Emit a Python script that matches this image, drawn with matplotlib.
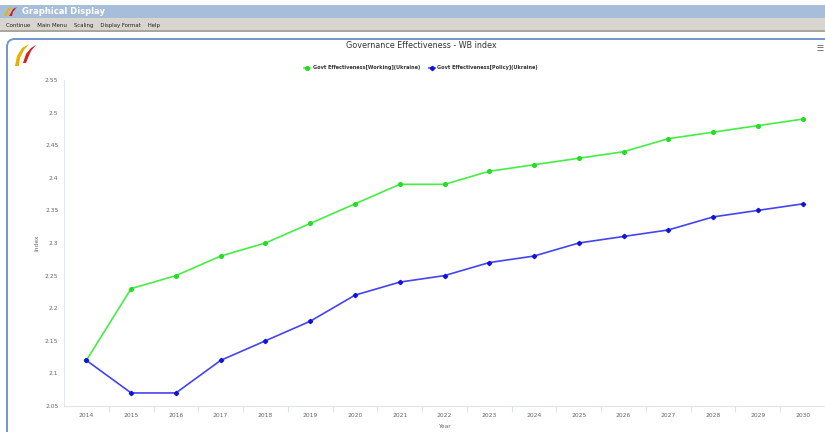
import matplotlib
matplotlib.use("Agg")
import matplotlib.pyplot as plt
from matplotlib.patches import Rectangle, FancyBboxPatch, Polygon

years = [str(y) for y in range(2014, 2031)]
working = [2.12, 2.23, 2.25, 2.28, 2.30, 2.33, 2.36, 2.39, 2.39, 2.41, 2.42,
           2.43, 2.44, 2.46, 2.47, 2.48, 2.49]
policy = [2.12, 2.07, 2.07, 2.12, 2.15, 2.18, 2.22, 2.24, 2.25, 2.27, 2.28,
          2.30, 2.31, 2.32, 2.34, 2.35, 2.36]
yticks = [2.05, 2.1, 2.15, 2.2, 2.25, 2.3, 2.35, 2.4, 2.45, 2.5, 2.55]
ytick_labels = ["2.05", "2.1", "2.15", "2.2", "2.25", "2.3", "2.35", "2.4", "2.45", "2.5", "2.55"]
series_names = ["Govt Effectiveness[Working](Ukraine)", "Govt Effectiveness[Policy](Ukraine)"]

W, H = 825, 432
fig = plt.figure(figsize=(W / 100, H / 100), dpi=100)
fig.patch.set_facecolor("white")

def px(x, y):
    return x / W, 1 - y / H

# --- window chrome (figure-level decoration) ---
bg = fig.add_axes([0, 0, 1, 1], zorder=0)
bg.set_xlim(0, W)
bg.set_ylim(H, 0)
bg.axis("off")
bg.add_patch(Rectangle((0, 5), W, 13, facecolor="#a7bedb", edgecolor="none"))
bg.add_patch(Rectangle((0, 18), W, 13, facecolor="#d8d5cf", edgecolor="none"))
bg.add_patch(Rectangle((0, 30), W, 2, facecolor="#a9a69f", edgecolor="none"))
bg.text(22, 11.5, "Graphical Display", color="white", fontsize=6, fontweight="bold",
        va="center", ha="left")
# small icon in title bar
bg.add_patch(Polygon([[4, 16], [8, 8], [12, 7], [8, 12], [7, 16]], facecolor="#e8b400", edgecolor="none"))
bg.add_patch(Polygon([[9, 16], [13, 9], [17, 7], [13, 12], [12, 16]], facecolor="#d02020", edgecolor="none"))
bg.text(6, 25, "Continue    Main Menu    Scaling    Display Format    Help", color="#222222",
        fontsize=3.9, va="center", ha="left")
# panel with rounded blue border
bg.add_patch(FancyBboxPatch((7, 39), W + 20, H, boxstyle="round,pad=0,rounding_size=8",
                            facecolor="white", edgecolor="#7396cc", linewidth=1.4))
# logo
bg.add_patch(Polygon([[15, 66], [17, 56], [22, 48], [29, 44], [24, 50], [20, 58], [19, 66]],
                     facecolor="#e8b000", edgecolor="none"))
bg.add_patch(Polygon([[23, 63], [26, 54], [31, 48], [36, 45], [31, 51], [28, 58], [26, 63]],
                     facecolor="#d42020", edgecolor="none"))
# hamburger menu
for yy in (45, 47.3, 49.6):
    bg.plot([817, 823], [yy, yy], color="#777777", linewidth=0.7, solid_capstyle="butt")

# --- chart ---
left, right, top, bottom = 64, 825, 80, 406
ax = fig.add_axes([left / W, 1 - bottom / H, (right - left) / W, (bottom - top) / H], zorder=1)
ax.set_facecolor("none")
x = list(range(len(years)))
ax.plot(x, working, color="#44ee44", linewidth=1.2, marker="o", markersize=2.6,
        markerfacecolor="#22dd22", markeredgecolor="#22dd22", label=series_names[0])
ax.plot(x, policy, color="#4444f2", linewidth=1.2, marker="D", markersize=2.2,
        markerfacecolor="#1111dd", markeredgecolor="#1111dd", label=series_names[1])
ax.set_xlim(-0.5, len(years) - 0.5)
ax.set_ylim(2.05, 2.55)
ax.set_yticks(yticks)
ax.set_yticklabels(ytick_labels)
ax.set_xticks(x)
ax.set_xticklabels(years)
ax.set_xticks([i + 0.5 for i in x[:-1]], minor=True)
ax.tick_params(axis="y", length=0, labelsize=4.3, labelcolor="#666666", pad=4)
ax.tick_params(axis="x", which="major", length=0, labelsize=4.3, labelcolor="#666666", pad=5)
ax.tick_params(axis="x", which="minor", length=4, color="#dde5f0", width=0.8)
for s in ("top", "right"):
    ax.spines[s].set_visible(False)
ax.spines["left"].set_color("#e3e9f3")
ax.spines["bottom"].set_color("#dde5f0")
ax.spines["left"].set_linewidth(0.8)
ax.spines["bottom"].set_linewidth(0.8)
ax.set_ylabel("Index", fontsize=4.3, color="#666666", labelpad=4)
ax.set_xlabel("Year", fontsize=4.3, color="#666666", labelpad=4)

fig.text(*px(421, 46), "Governance Effectiveness - WB index", ha="center", va="center",
         fontsize=5.8, color="#333333")
leg = fig.legend(loc="center", bbox_to_anchor=px(421, 68), ncol=2, frameon=False,
                 fontsize=3.6, handlelength=1.2, columnspacing=1.8, handletextpad=0.5)
for t in leg.get_texts():
    t.set_fontweight("bold")
    t.set_color("#333333")

fig.savefig("out.png", dpi=100)
